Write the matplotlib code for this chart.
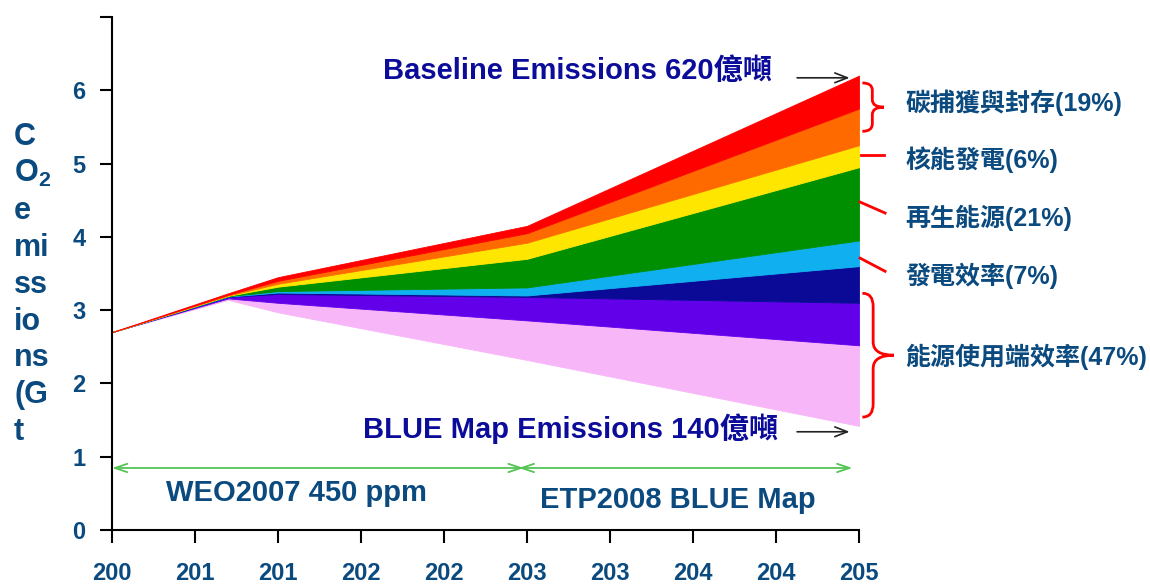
import matplotlib.pyplot as plt
import numpy as np
from matplotlib.path import Path
from matplotlib.patches import PathPatch

plt.rcParams['font.family'] = ['Liberation Sans', 'Noto Sans CJK TC', 'DejaVu Sans']
plt.rcParams['font.weight'] = 'bold'
plt.rcParams['mathtext.fontset'] = 'custom'
plt.rcParams['mathtext.bf'] = 'Liberation Sans:bold'
plt.rcParams['mathtext.rm'] = 'Liberation Sans:bold'

# years where the wedge outlines bend
years = [2005, 2012, 2015, 2030, 2050]

# BLUE Map emissions (bottom of the wedges), Gt CO2 x10
blue_map = [2.70, 3.14, 2.97, 2.32, 1.42]

# thickness of each reduction wedge, stacked from the bottom up
end_use_fuel_eff = [0, 0.02, 0.13, 0.54, 1.10]
end_use_elec_eff = [0, 0.02, 0.12, 0.32, 0.58]
end_use_switch = [0, 0.005, 0.02, 0.02, 0.50]
power_eff = [0, 0.005, 0.02, 0.11, 0.35]
renewables = [0, 0.005, 0.06, 0.39, 1.00]
nuclear = [0, 0.005, 0.04, 0.22, 0.30]
ccs_industry = [0, 0.01, 0.04, 0.13, 0.50]
ccs_power = [0, 0.02, 0.05, 0.10, 0.45]

wedges = [end_use_fuel_eff, end_use_elec_eff, end_use_switch, power_eff,
          renewables, nuclear, ccs_industry, ccs_power]
wedge_colors = ['#f7b6f7', '#6200ea', '#0a0a96', '#10b0f0',
                '#008f00', '#ffe600', '#ff6a00', '#ff0000']

xtick_years = [2005, 2010, 2015, 2020, 2025, 2030, 2035, 2040, 2045, 2050]
xtick_labels = ['200', '201', '201', '202', '202', '203', '203', '204', '204', '205']
ytick_vals = [0, 1, 2, 3, 4, 5, 6, 7]
ytick_labels = ['0', '1', '2', '3', '4', '5', '6', '']

ylabel_lines = ['C', r'O$_{\mathbf{2}}$', 'e', 'mi', 'ss', 'io', 'ns', '(G', 't']

# right-hand labels: text, y position
wedge_labels = ['碳捕獲與封存(19%)', '核能發電(6%)', '再生能源(21%)',
                '發電效率(7%)', '能源使用端效率(47%)']
wedge_label_y = [5.83, 5.05, 4.26, 3.47, 2.36]

text_blue = '#0b4a7f'
title_blue = '#0c0c9a'
red = '#ff0000'

fig = plt.figure(figsize=(11.5, 5.86), dpi=100)
ax = fig.add_axes([0.0974, 0.0956, 0.6496, 0.8754])

# stacked wedges
lower = np.array(blue_map, dtype=float)
for vals, col in zip(wedges, wedge_colors):
    upper = lower + np.array(vals)
    ax.fill_between(years, lower, upper, facecolor=col, edgecolor=col, lw=0.6)
    lower = upper

ax.set_xlim(2005, 2050)
ax.set_ylim(0, 7)
ax.set_xticks(xtick_years)
ax.set_xticklabels(xtick_labels)
ax.set_yticks(ytick_vals)
ax.set_yticklabels(ytick_labels)
for s in ['top', 'right']:
    ax.spines[s].set_visible(False)
for s in ['left', 'bottom']:
    ax.spines[s].set_linewidth(1.5)
ax.tick_params(axis='both', direction='out', length=9, width=1.5,
               labelsize=17, labelcolor=text_blue)
ax.tick_params(axis='x', pad=14)
ax.tick_params(axis='y', pad=10)
for lab in ax.get_xticklabels() + ax.get_yticklabels():
    lab.set_fontweight('bold')

# vertical y-axis title
for i, line in enumerate(ylabel_lines):
    fig.text(14 / 1150, 1 - (137 + i * 36.9) / 586, line, fontsize=22,
             fontweight='bold', color=text_blue, ha='left', va='center')

# scenario headlines with arrows
ax.text(2021.3, 6.26, 'Baseline Emissions 620億噸', fontsize=21,
        fontweight='bold', color=title_blue, ha='left', va='center')
ax.text(2020.1, 1.38, 'BLUE Map Emissions 140億噸', fontsize=21,
        fontweight='bold', color=title_blue, ha='left', va='center')
total_top = np.array(blue_map) + np.sum(wedges, axis=0)
for y in [total_top[-1] - 0.03, blue_map[-1] - 0.08]:
    ax.annotate('', xy=(2049.6, y), xytext=(2046.1, y), annotation_clip=False,
                arrowprops=dict(arrowstyle='->,head_length=0.9,head_width=0.35',
                                color='#222222', lw=1.2))

# green period arrows
for x0, x1 in [(2005.0, 2029.8), (2029.5, 2049.6)]:
    ax.annotate('', xy=(x1, 0.846), xytext=(x0, 0.846), annotation_clip=False,
                arrowprops=dict(arrowstyle='<->,head_length=0.9,head_width=0.3',
                                color='#55c455', lw=1.3, shrinkA=0, shrinkB=0))
ax.text(2016.1, 0.50, 'WEO2007 450 ppm', fontsize=21, fontweight='bold',
        color=text_blue, ha='center', va='center')
ax.text(2039.1, 0.41, 'ETP2008 BLUE Map', fontsize=21, fontweight='bold',
        color=text_blue, ha='center', va='center')


def brace(y_top, y_bot, x_end, x_mid, x_tip, r):
    y_c = (y_top + y_bot) / 2
    verts = [(x_end, y_top), (x_mid, y_top), (x_mid, y_top - r),
             (x_mid, y_c + r),
             (x_mid, y_c), (x_tip, y_c),
             (x_mid, y_c), (x_mid, y_c - r),
             (x_mid, y_bot + r),
             (x_mid, y_bot), (x_end, y_bot)]
    codes = [Path.MOVETO, Path.CURVE3, Path.CURVE3, Path.LINETO,
             Path.CURVE3, Path.CURVE3, Path.CURVE3, Path.CURVE3,
             Path.LINETO, Path.CURVE3, Path.CURVE3]
    ax.add_patch(PathPatch(Path(verts, codes), fill=False, edgecolor=red,
                           lw=2, clip_on=False))


brace(6.10, 5.44, 2050.2, 2050.8, 2051.5, 0.1)
brace(3.23, 1.54, 2050.2, 2050.85, 2052.1, 0.18)
ax.plot([2050.1, 2051.5], [5.12, 5.12], color=red, lw=2, clip_on=False)
ax.plot([2050.06, 2051.57], [4.475, 4.325], color=red, lw=2, clip_on=False)
ax.plot([2050.06, 2051.57], [3.71, 3.53], color=red, lw=2, clip_on=False)

for txt, y in zip(wedge_labels, wedge_label_y):
    ax.text(2052.77, y, txt, fontsize=18, fontweight='bold', color=text_blue,
            ha='left', va='center', clip_on=False)

fig.savefig('out.png', dpi=100)
